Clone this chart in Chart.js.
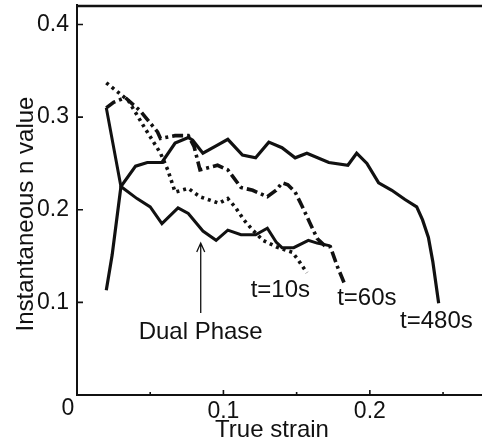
<!DOCTYPE html>
<html>
<head>
<meta charset="utf-8">
<script src="https://cdn.jsdelivr.net/npm/chart.js@4.4.1/dist/chart.umd.min.js"></script>
<style>
body { margin: 0; background: #fff; }
canvas { display: block; }
</style>
</head>
<body>
<canvas id="nChart" width="482" height="447"></canvas>
<script>
// instantaneous n value against true strain

var dualX = [0.020, 0.030, 0.041, 0.050, 0.058, 0.069, 0.076, 0.086, 0.095, 0.103, 0.112, 0.122, 0.130, 0.136, 0.140, 0.148, 0.158, 0.164, 0.173];
var dualY = [0.310, 0.225, 0.212, 0.203, 0.185, 0.202, 0.196, 0.177, 0.167, 0.178, 0.173, 0.173, 0.180, 0.165, 0.159, 0.159, 0.167, 0.164, 0.161];

var t10X = [0.020, 0.035, 0.046, 0.057, 0.062, 0.067, 0.076, 0.084, 0.097, 0.103, 0.108, 0.114, 0.120, 0.127, 0.136, 0.147, 0.151, 0.157];
var t10Y = [0.337, 0.318, 0.289, 0.261, 0.243, 0.219, 0.223, 0.214, 0.207, 0.212, 0.203, 0.189, 0.178, 0.167, 0.160, 0.154, 0.146, 0.132];

var t60X = [0.020, 0.025, 0.033, 0.043, 0.055, 0.057, 0.067, 0.076, 0.080, 0.084, 0.096, 0.103, 0.112, 0.120, 0.130, 0.136, 0.140, 0.144, 0.149, 0.154, 0.159, 0.164, 0.170, 0.173, 0.178, 0.183];
var t60Y = [0.310, 0.316, 0.321, 0.307, 0.284, 0.277, 0.280, 0.280, 0.268, 0.243, 0.248, 0.243, 0.224, 0.221, 0.214, 0.221, 0.229, 0.227, 0.219, 0.203, 0.186, 0.169, 0.160, 0.160, 0.138, 0.119];

var t480X = [0.020, 0.024, 0.030, 0.040, 0.048, 0.058, 0.067, 0.076, 0.079, 0.086, 0.095, 0.103, 0.113, 0.122, 0.131, 0.140, 0.149, 0.157, 0.172, 0.185, 0.191, 0.198, 0.206, 0.215, 0.224, 0.232, 0.236, 0.240, 0.243, 0.247];
var t480Y = [0.113, 0.151, 0.225, 0.247, 0.251, 0.251, 0.272, 0.278, 0.275, 0.261, 0.269, 0.276, 0.259, 0.256, 0.273, 0.267, 0.256, 0.261, 0.251, 0.248, 0.261, 0.250, 0.229, 0.221, 0.211, 0.203, 0.189, 0.170, 0.144, 0.099];

var yTicks = [0.1, 0.2, 0.3, 0.4];
var xTicks = [0.1, 0.2];
var xMinorTicks = [0.05, 0.15, 0.25];

// curve labels and the arrow, placed in data units
var notes = [
    { text: "t=10s", x: 0.1186, y: 0.1057 },
    { text: "t=60s", x: 0.1777, y: 0.097 },
    { text: "t=480s", x: 0.2206, y: 0.0723 },
    { text: "Dual Phase", x: 0.0421, y: 0.0604 }
];
var arrow = { x: 0.0845, from: 0.0885, to: 0.164 };

var ink = "#111";
var font = "'Liberation Sans', Arial, Helvetica, sans-serif";

function pts(xs, ys) {
    return xs.map(function (x, i) { return { x: x, y: ys[i] }; });
}

var extras = {
    id: "extras",
    afterDraw: function (chart) {
        var c = chart.ctx;
        var a = chart.chartArea;
        var xs = chart.scales.x, ys = chart.scales.y;
        c.save();
        c.setLineDash([]);
        c.strokeStyle = ink;
        c.fillStyle = ink;

        // top frame line (no right edge in the scan)
        c.lineWidth = 2.5;
        c.beginPath();
        c.moveTo(a.left - 1, a.top + 1);
        c.lineTo(a.right, a.top + 1);
        c.stroke();

        // inward ticks
        c.lineWidth = 1.6;
        c.beginPath();
        yTicks.forEach(function (v) {
            var p = ys.getPixelForValue(v);
            c.moveTo(a.left, p);
            c.lineTo(a.left + 6, p);
        });
        xTicks.forEach(function (v) {
            var p = xs.getPixelForValue(v);
            c.moveTo(p, a.bottom);
            c.lineTo(p, a.bottom - 5);
        });
        xMinorTicks.forEach(function (v) {
            var p = xs.getPixelForValue(v);
            c.moveTo(p, a.bottom);
            c.lineTo(p, a.bottom - 3);
        });
        c.stroke();

        // origin label
        c.font = "23px " + font;
        c.textAlign = "center";
        c.textBaseline = "alphabetic";
        c.fillText("0", a.left - 9, a.bottom + 20);

        // axis titles
        c.font = "24px " + font;
        c.fillText("True strain", 272, 437);
        c.save();
        c.translate(33, 214);
        c.rotate(-Math.PI / 2);
        c.fillText("Instantaneous n value", 0, 0);
        c.restore();

        // notes
        c.textAlign = "left";
        notes.forEach(function (n) {
            c.fillText(n.text, xs.getPixelForValue(n.x), ys.getPixelForValue(n.y));
        });

        // arrow pointing at the dual phase curve
        var ax = xs.getPixelForValue(arrow.x);
        var y0 = ys.getPixelForValue(arrow.from);
        var y1 = ys.getPixelForValue(arrow.to);
        c.lineWidth = 1.3;
        c.beginPath();
        c.moveTo(ax, y0);
        c.lineTo(ax, y1);
        c.moveTo(ax - 4, y1 + 9);
        c.lineTo(ax, y1);
        c.lineTo(ax + 4, y1 + 9);
        c.stroke();
        c.restore();
    }
};

var lineStyle = {
    borderColor: ink,
    pointRadius: 0,
    showLine: true,
    tension: 0,
    fill: false
};

var chart = new Chart(document.getElementById("nChart"), {
    type: "scatter",
    data: {
        datasets: [
            Object.assign({ label: "Dual Phase", data: pts(dualX, dualY), borderWidth: 3 }, lineStyle),
            Object.assign({ label: "t=10s", data: pts(t10X, t10Y), borderWidth: 3.6, borderDash: [3, 4] }, lineStyle),
            Object.assign({ label: "t=60s", data: pts(t60X, t60Y), borderWidth: 3.6, borderDash: [11, 4, 3, 4] }, lineStyle),
            Object.assign({ label: "t=480s", data: pts(t480X, t480Y), borderWidth: 3.2 }, lineStyle)
        ]
    },
    options: {
        responsive: false,
        animation: false,
        layout: { padding: { top: 5, left: 0, right: 0, bottom: 0 } },
        plugins: {
            legend: { display: false },
            tooltip: { enabled: false }
        },
        scales: {
            x: {
                type: "linear",
                min: 0,
                max: 0.2766,
                grid: { display: false, drawTicks: false },
                border: { display: true, color: ink, width: 2 },
                afterBuildTicks: function (s) { s.ticks = xTicks.map(function (v) { return { value: v }; }); },
                afterFit: function (s) { s.height = 52; s.paddingLeft = 0; s.paddingRight = 0; },
                ticks: {
                    autoSkip: false,
                    maxRotation: 0,
                    padding: 3,
                    color: ink,
                    font: { family: font, size: 23 },
                    callback: function (v) { return v.toFixed(1); }
                }
            },
            y: {
                type: "linear",
                min: 0,
                max: 0.421,
                grid: { display: false, drawTicks: false },
                border: { display: true, color: ink, width: 2 },
                afterBuildTicks: function (s) { s.ticks = yTicks.map(function (v) { return { value: v }; }); },
                afterFit: function (s) { s.width = 77; s.paddingTop = 0; s.paddingBottom = 0; },
                ticks: {
                    padding: 8,
                    color: ink,
                    font: { family: font, size: 23 },
                    callback: function (v) { return v.toFixed(1); }
                }
            }
        }
    },
    plugins: [extras]
});
</script>
</body>
</html>
